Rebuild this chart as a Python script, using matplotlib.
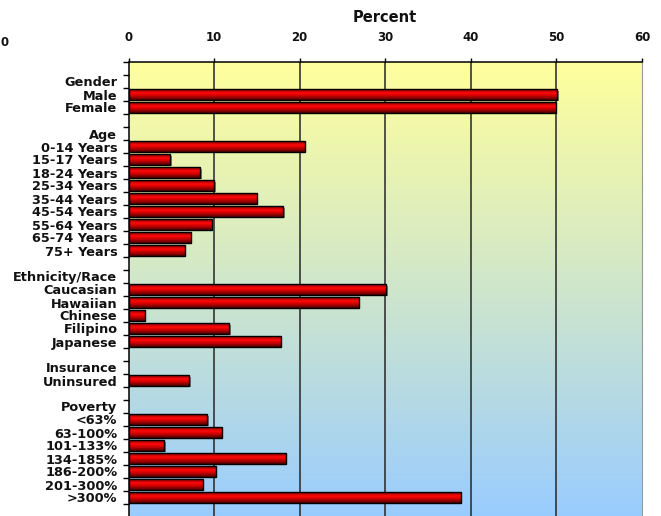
import numpy as np
import matplotlib
matplotlib.use("Agg")
import matplotlib.pyplot as plt
from matplotlib.patches import Rectangle
from matplotlib.colors import LinearSegmentedColormap
from matplotlib.transforms import offset_copy

# ---------------- data ----------------
groups = ["Gender", "Age", "Ethnicity/Race", "Insurance", "Poverty"]

gender_labels = ["Male", "Female"]
gender_values = [50.1, 49.9]

age_labels = ["0-14 Years", "15-17 Years", "18-24 Years", "25-34 Years",
              "35-44 Years", "45-54 Years", "55-64 Years", "65-74 Years",
              "75+ Years"]
age_values = [20.6, 4.9, 8.4, 10.0, 15.0, 18.1, 9.7, 7.3, 6.6]

eth_labels = ["Caucasian", "Hawaiian", "Chinese", "Filipino", "Japanese"]
eth_values = [30.1, 26.9, 1.9, 11.8, 17.8]

ins_labels = ["Uninsured"]
ins_values = [7.1]

pov_labels = ["<63%", "63-100%", "101-133%", "134-185%", "186-200%",
              "201-300%", ">300%"]
pov_values = [9.2, 10.9, 4.2, 18.4, 10.2, 8.7, 38.8]

x_ticks = [0, 10, 20, 30, 40, 50, 60]
x_title = "Percent"

group_items = [(gender_labels, gender_values), (age_labels, age_values),
               (eth_labels, eth_values), (ins_labels, ins_values),
               (pov_labels, pov_values)]

# ---------------- build rows ----------------
row_labels, row_values = [], []
for g, (labs, vals) in zip(groups, group_items):
    row_labels.append("")
    row_values.append(None)
    row_labels.append(g)
    row_values.append(None)
    row_labels.extend(labs)
    row_values.extend(vals)
row_labels.append("")
row_values.append(None)
n_rows = len(row_labels)

# ---------------- figure ----------------
W, H = 661, 516
fig = plt.figure(figsize=(W / 100, H / 100), dpi=100)
fig.patch.set_facecolor("white")
x0, x1, ytop = 128.5, 642.0, 62.0
row_h = 13.0
ybot = ytop + n_rows * row_h
ax = fig.add_axes([x0 / W, 1 - ybot / H, (x1 - x0) / W, (ybot - ytop) / H])

# background gradient
bg = LinearSegmentedColormap.from_list("bg", ["#FFFF9C", "#CFE6CC", "#99CCFF"])
grad = np.linspace(0, 1, 256).reshape(-1, 1)
ax.imshow(grad, extent=(0, 60, n_rows, 0), aspect="auto", cmap=bg,
          zorder=0, interpolation="bilinear")
ax.set_xlim(0, 60)
ax.set_ylim(n_rows, 0)

for xv in x_ticks[1:-1]:
    ax.axvline(xv, color="#262626", lw=1.1, zorder=1)

# bars
bar_cmap = LinearSegmentedColormap.from_list(
    "bar", [(0.0, "#7a0000"), (0.35, "#ff0a0a"), (0.55, "#e00000"), (1.0, "#4a0000")])
shadow_tr = offset_copy(ax.transData, fig=fig, x=1.5, y=-1.5, units="dots")
bh = 0.78
for i, v in enumerate(row_values):
    if v is None:
        continue
    yc = i + 0.5
    sh = Rectangle((0, yc - bh / 2), v, bh, facecolor="#303030",
                   edgecolor="none", alpha=0.55, zorder=2, transform=shadow_tr)
    ax.add_patch(sh)
    rect = Rectangle((0, yc - bh / 2), v, bh, facecolor="none",
                     edgecolor="black", lw=1.0, zorder=4)
    ax.add_patch(rect)
    im = ax.imshow(grad, extent=(0, v, yc + bh / 2, yc - bh / 2), aspect="auto",
                   cmap=bar_cmap, zorder=3, interpolation="bilinear")
    im.set_clip_path(rect)
ax.set_xlim(0, 60)
ax.set_ylim(n_rows, 0)

# axes styling
ax.xaxis.tick_top()
ax.set_xticks(x_ticks)
ax.set_xticklabels([str(t) for t in x_ticks], fontsize=8.5, fontweight="bold",
                   color="#111111")
ax.tick_params(axis="x", which="major", direction="out", length=3, width=1,
               pad=10)

ax.set_yticks(np.arange(0, n_rows))
ax.set_yticklabels([])
ax.tick_params(axis="y", which="major", direction="out", length=4, width=1)
ax.set_yticks(np.arange(n_rows) + 0.5, minor=True)
ax.set_yticklabels(row_labels, minor=True, fontsize=9.3, fontweight="bold",
                   color="#111111")
ax.tick_params(axis="y", which="minor", length=0, pad=8)

for s in ["top", "left"]:
    ax.spines[s].set_color("black")
    ax.spines[s].set_linewidth(1.1)
ax.spines["right"].set_color("#9a9a9a")
ax.spines["bottom"].set_visible(False)

fig.text((x0 + x1) / 2 / W, 1 - 17 / H, x_title, ha="center", va="center",
         fontsize=10.5, fontweight="bold", color="#111111")
# tick label of a neighbouring panel at the far left edge
fig.text(0.5 / W, 1 - 42 / H, "0", ha="left", va="center", fontsize=8.5,
         fontweight="bold", color="#111111")

fig.savefig("out.png", dpi=100)
